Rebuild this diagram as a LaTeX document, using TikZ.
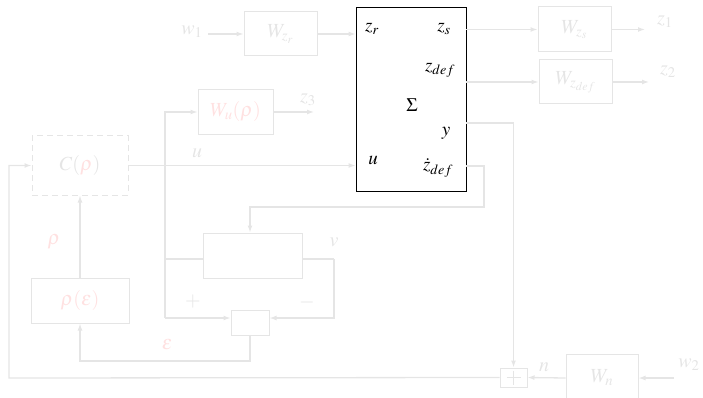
\documentclass[tikz,border=0pt]{standalone}
\usepackage{mathptmx}
\usepackage{fontspec}
\setmainfont{Liberation Serif}
\usetikzlibrary{arrows.meta,calc}
\definecolor{faint}{HTML}{E5E5E5}
\definecolor{faintred}{HTML}{FFE1E1}
\tikzset{
  wire/.style={draw=faint, line width=1.3pt},
  arr/.style={wire, -{Latex[length=7pt,width=5pt]}},
  blk/.style={draw=faint, line width=1pt, rectangle, inner sep=0pt, text=faint},
  lbl/.style={text=faint, inner sep=0pt},
  rlbl/.style={text=faintred, inner sep=0pt},
  plant/.style={draw=black, line width=0.8pt, rectangle, inner sep=0pt},
  inlbl/.style={text=black, inner sep=0pt, font=\fontsize{19}{21}\selectfont}
}
\begin{document}
\begin{tikzpicture}[x=1pt, y=-1pt, font=\fontsize{20}{22}\selectfont]
\useasboundingbox (0,0) rectangle (703,398);

% generalized plant
\node[plant, minimum width=110pt, minimum height=184pt] (sigma) at (411,99) {};
\node[inlbl] (lzr) at (372,29) {$z_r$};
\node[inlbl] (lzs) at (444,29) {$z_s$};
\node[inlbl] (lzd) at (440,70) {$z_{def}$};
\node[inlbl] (lsig) at (412,105) {$\Sigma$};
\node[inlbl] (ly) at (446,133) {$y$};
\node[inlbl] (lu) at (373,160) {$u$};
\node[inlbl] (lzdd) at (438,168) {$\dot z_{def}$};

% weighting filters and controller
\node[blk, minimum width=73pt, minimum height=44pt] (Wzr) at (280.5,34) {$W_{z_r}$};
\node[blk, minimum width=75pt, minimum height=45pt, text=faintred] (Wu) at (235.5,112) {$W_u(\rho)$};
\node[blk, dashed, dash pattern=on 6pt off 4pt, minimum width=96pt, minimum height=59pt] (C) at (80,165.5) {$C(\textcolor{faintred}{\rho})$};
\node[blk, minimum width=99pt, minimum height=45pt] (mid) at (252.5,255.5) {};
\node[blk, minimum width=38pt, minimum height=25pt] (diff) at (250,322.5) {};
\node[blk, minimum width=98pt, minimum height=45pt, text=faintred] (rho) at (80,300.5) {$\rho(\varepsilon)$};
\node[blk, minimum width=73pt, minimum height=45pt] (Wzs) at (574.5,29.5) {$W_{z_s}$};
\node[blk, minimum width=73pt, minimum height=44pt] (Wzd) at (575.5,82) {$W_{z_{def}}$};
\node[blk, minimum width=72pt, minimum height=48pt] (Wn) at (602,378) {$W_n$};
\node[blk, minimum width=27pt, minimum height=19pt] (sum) at (513.5,377.5) {};
\draw[draw=faint, line width=0.6pt] ($(sum.center)+(-7,0)$) -- ($(sum.center)+(7,0)$)
  ($(sum.center)+(0,-7)$) -- ($(sum.center)+(0,7)$);

% signal labels
\node[lbl] (lw1) at (192,32) {$w_1$};
\node[lbl] (lz1) at (665,22) {$z_1$};
\node[lbl] (lz2) at (668,72) {$z_2$};
\node[lbl] (lz3) at (308,100) {$z_3$};
\node[lbl] (lw2) at (689,365) {$w_2$};
\node[lbl] (lsu) at (197,153) {$u$};
\node[rlbl] (lrho) at (54,242) {$\rho$};
\node[rlbl] (leps) at (167,345) {$\varepsilon$};
\node[lbl] (lplus) at (193,302) {$+$};
\node[lbl] (lminus) at (307,302) {$-$};
\node[lbl] (lv) at (334,242) {$v$};
\node[lbl] (ln) at (544,367) {$n$};

% free ends and junctions
\coordinate (w1s) at (208,34);
\coordinate (z1e) at (645,29.5);
\coordinate (z2e) at (649,82);
\coordinate (z3e) at (314,112);
\coordinate (w2s) at (674,378);
\coordinate (br) at (165,165.5);
\coordinate (brmid) at (165,259);
\coordinate (brlow) at (165,318);
\coordinate (zdo) at (484,166);
\coordinate (zdl) at (250,207);
\coordinate (vr) at (334,259);
\coordinate (epsb) at (250,361);
\coordinate (fbl) at (9,378);
\coordinate (yo) at (513.5,123);

% connections
\draw[arr] (w1s) -- (Wzr.west);
\draw[arr] (Wzr.east) -- (sigma.west |- Wzr.east);
\draw[arr] (sigma.east |- Wzs.west) -- (Wzs.west);
\draw[arr] (Wzs.east) -- (z1e);
\draw[arr] (sigma.east |- Wzd.west) -- (Wzd.west);
\draw[arr] (Wzd.east) -- (z2e);
\draw[arr] (C.east) -- (sigma.west |- C.east);
\draw[arr] (br) |- (Wu.west);
\draw[arr] (Wu.east) -- (z3e);
\draw[wire] (br) -- (brlow);
\draw[wire] (brmid) -- (mid.west |- brmid);
\draw[arr] (brlow) -- (diff.west |- brlow);
\draw[wire] (mid.east |- vr) -- (vr);
\draw[arr] (vr) |- (diff.east |- brlow);
\draw[arr] (sigma.east |- zdo) -- (zdo) |- (zdl) -- (zdl |- mid.north);
\draw[arr] (sigma.east |- yo) -- (yo) -- (sum.north);
\draw[arr] (diff.south) -- (epsb) -| (rho.south);
\draw[arr] (rho.north) -- (C.south);
\draw[arr] (sum.west) -- (fbl) |- (C.west);
\draw[arr] (Wn.west) -- (sum.east);
\draw[arr] (w2s) -- (Wn.east);
\end{tikzpicture}
\end{document}
